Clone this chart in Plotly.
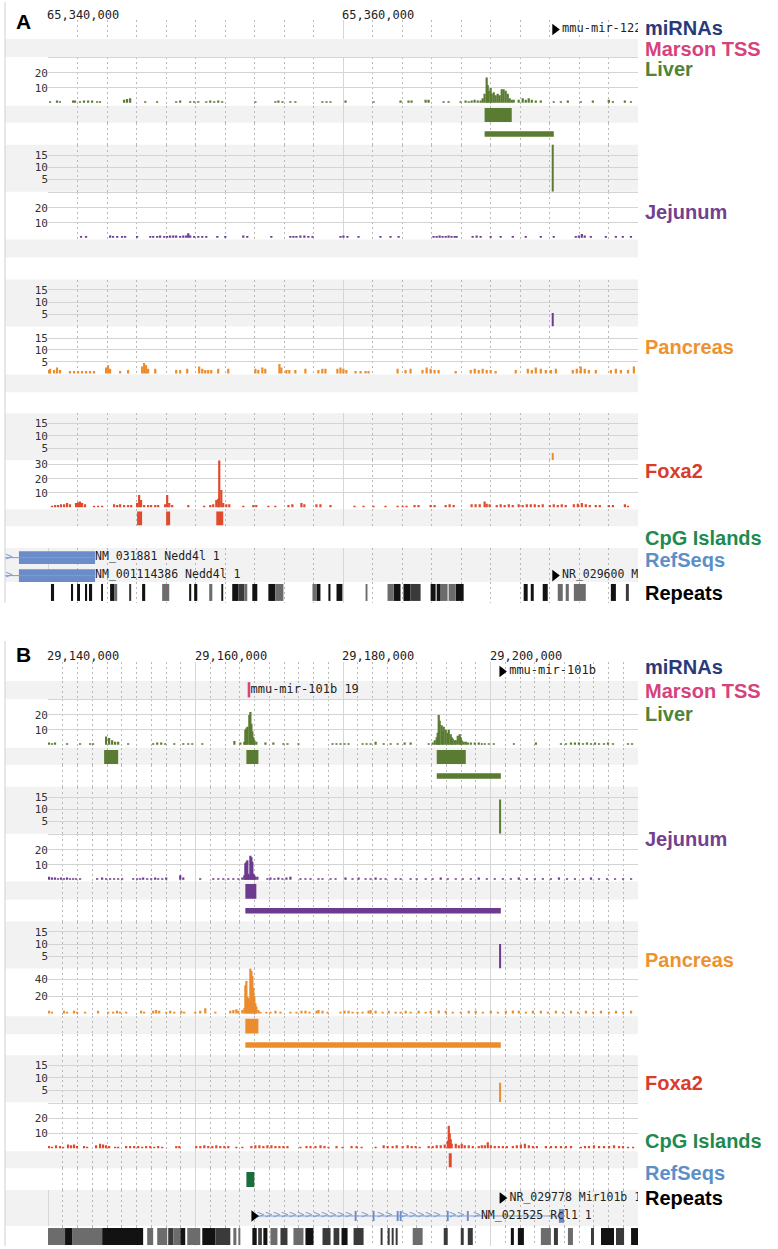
import plotly.graph_objects as go

# ------------------------------------------------------------------ data
A_START, A_END = 65_340_000, 65_380_000
B_START, B_END = 29_140_000, 29_220_000
A_TICKS = [65_340_000, 65_360_000]
A_TICK_TEXT = ["65,340,000", "65,360,000"]
B_TICKS = [29_140_000, 29_160_000, 29_180_000, 29_200_000]
B_TICK_TEXT = ["29,140,000", "29,160,000", "29,180,000", "29,200,000"]
MINOR_STEP = 2_000

TRACK_NAMES = ["miRNAs", "Marson TSS", "Liver", "Jejunum", "Pancreas",
               "Foxa2", "CpG Islands", "RefSeqs", "Repeats"]

# signal tracks: (kb from window start, signal value)
A_LIVER = [(0.14,1),(0.61,1.5),(0.81,1),(1.70,1.5),(1.83,1.5),(2.17,1),(2.44,1.5),(2.72,1.5),(2.99,1.5),(3.33,1),(3.53,1),
           (5.16,2),(5.36,2.5),(5.57,3),(6.59,1),(7.40,1),(8.69,1),(8.96,1.5),(9.64,1),(9.91,1),(10.19,1),(10.73,1),(11.00,1.5),
           (11.27,1),(11.54,1.5),(11.81,1),(14.06,1),(15.41,1),(15.62,1.5),(15.89,1),(16.43,1),(16.77,1),(18.60,1),(18.88,1),
           (19.15,1),(20.17,1.5),(22.07,1),(23.90,1.5),(24.44,1.5),(24.65,1.5),(25.60,2),(25.80,2),(26.82,1),(27.16,1),
           (27.97,1),(28.31,1.5),(28.52,1),(28.72,1.5),(28.92,2),(29.13,1.5),(29.33,1.5),(29.47,3),(29.60,6),(29.74,17),
           (29.81,12),(29.88,8),(30.01,10),(30.08,6),(30.22,7),(30.35,5),(30.49,6),(30.62,5),(30.76,9),(30.89,9),(31.03,8),
           (31.17,6),(31.30,3),(31.44,2),(31.57,2),(31.91,2),(32.18,3),(32.39,2),(32.59,3),(32.80,2),(33.07,1.5),(33.41,1.5),
           (34.29,1),(34.77,1),(35.24,1.5),(36.12,1),(36.94,1.5),(38.02,2),(38.30,1),(39.11,1.5),(39.52,1)]
A_JEJ = [(2.24,1.2),(2.58,1.2),(4.21,1.5),(4.41,1.2),(4.69,1.2),(5.02,1.2),(5.23,1.2),(6.04,1.2),(6.93,1.2),(7.13,1.2),
         (7.40,1.2),(7.60,1.5),(7.88,1.2),(8.08,1.2),(8.28,1.5),(8.49,1.5),(8.69,1.5),(8.96,1.2),(9.17,1.5),(9.37,1.5),
         (9.51,3),(9.64,1.5),(9.91,1.2),(10.19,1.2),(10.46,1.2),(10.73,1.2),(11.48,1.2),(12.02,1.2),(13.24,1.5),(13.51,1.2),
         (15.14,1.2),(16.43,1.2),(16.64,1.2),(16.84,1.2),(17.11,1.5),(17.38,1.5),(17.65,1.2),(17.93,1.2),(19.83,1.2),
         (20.03,1.5),(20.30,1.2),(21.05,1.2),(22.54,1.2),(23.22,1.2),(23.77,1.2),(26.14,1.2),(26.35,1.2),(26.55,1.5),
         (26.75,1.2),(26.96,1.2),(27.16,1.5),(27.36,1.2),(27.57,1.2),(27.70,1.2),(28.79,1.2),(29.06,1.5),(29.33,1.2),
         (30.01,1.2),(30.69,1.2),(31.51,1.2),(32.39,1.2),(33.41,1.2),(34.29,1.2),(35.78,1.2),(35.99,1.5),(36.19,2.5),
         (36.39,1.5),(36.80,1.2),(37.82,1.2),(38.50,1.2),(38.97,1.2),(39.52,1.2)]
A_PAN = [(0.07,1.5),(0.14,2),(0.41,1.5),(0.61,2.5),(0.81,1.5),(1.49,1),(1.77,1),(2.04,1),(2.31,1),(2.58,1),(2.85,1),
         (3.12,1),(3.94,2.5),(4.07,3.5),(4.21,2),(4.89,1),(5.43,1.5),(6.38,3),(6.52,4.5),(6.65,3.5),(6.79,2),(7.27,2),
         (8.69,1.5),(8.96,1.5),(9.44,2),(10.25,3),(10.46,2),(10.66,1.5),(10.86,1.5),(11.07,1.5),(11.54,2),(12.22,2),
         (14.06,2),(14.26,1.5),(14.53,2.5),(14.73,2),(15.69,4),(15.82,2.5),(16.16,1.5),(16.36,1.5),(16.77,1.5),(17.45,2),
         (18.33,1.5),(18.60,2),(18.81,2),(19.62,2),(19.83,2.5),(20.03,2),(20.23,1.5),(20.85,1),(21.19,1),(21.53,1),
         (21.73,1),(23.70,2),(24.24,1.5),(24.58,2),(25.39,1.5),(25.67,2.5),(25.94,2),(26.21,1.5),(26.48,1.5),(27.64,1),
         (28.66,1.5),(28.93,2),(29.20,1.5),(29.47,2),(29.74,1.5),(30.01,1.5),(30.35,1),(31.71,1.5),(32.53,2),(32.80,1.5),
         (33.07,2.5),(33.41,2),(33.75,1.5),(34.09,1.5),(34.43,2),(35.58,1.5),(35.85,2),(36.12,3),(36.39,2),(36.67,1.5),
         (37.14,1.5),(38.16,1.5),(38.50,2),(38.84,1.5),(39.32,1.5),(39.72,3)]
A_FOX = [(0.27,1),(0.48,1.5),(0.68,1.5),(0.88,2),(1.09,2),(1.29,3),(1.49,2),(1.90,3),(2.04,3.5),(2.17,4),(2.31,3),
         (2.51,2),(3.12,1),(3.40,1),(3.67,1),(4.48,2),(4.69,1.5),(4.89,2),(5.16,1.5),(5.43,1.5),(5.64,1.5),(6.04,3),
         (6.18,8.5),(6.31,5),(6.52,1.5),(6.79,1.5),(6.99,1.5),(7.27,1.5),(7.47,1.5),(7.94,2),(8.08,8.5),(8.22,3),(8.42,1.5),
         (9.51,1.5),(10.59,1),(11.00,1.5),(11.20,2),(11.41,5),(11.54,6),(11.61,33),(11.75,12),(11.88,3),(12.09,2),
         (12.29,2),(13.24,1),(13.92,1.5),(14.12,1.5),(14.94,1),(15.41,1),(16.30,1.5),(16.57,2),(17.18,3),(17.38,2),
         (18.20,2),(18.47,2),(19.15,1.5),(20.78,1),(21.39,1),(22.07,1),(22.88,1),(23.70,1),(24.04,1),(24.31,1),
         (24.85,1.5),(25.12,1.5),(25.94,1.5),(26.21,1.5),(26.96,1.5),(27.23,2),(27.50,1.5),(28.72,2),(28.99,2),(29.27,2),
         (29.60,4),(29.74,2.5),(29.94,2),(30.42,1.5),(30.69,2),(30.96,1.5),(31.24,2),(31.51,1.5),(31.91,2),(32.18,1.5),
         (32.46,2),(32.73,2),(33.00,2),(33.27,1.5),(33.54,2),(34.02,1.5),(34.29,2),(34.56,1.5),(34.83,2),(35.10,1.5),
         (35.65,2),(35.92,2.5),(36.19,3),(36.46,2),(36.73,1.5),(37.14,1.5),(37.41,1.5),(38.02,1.5),(38.30,1.5),
         (39.11,2),(39.32,1)]

B_LIVER = [(0.14,1.5),(0.54,1),(0.95,1.5),(2.58,1),(4.35,1),(5.71,1),(6.11,1),(7.88,5.5),(8.29,4.5),(8.70,3),(9.10,2),
           (9.51,2),(10.87,1),(14.26,1),(14.81,1.5),(15.35,1.5),(15.89,1),(17.12,1),(18.34,1),(19.02,1),(19.56,1),
           (20.92,1),(25.27,2.5),(26.08,1.5),(26.62,2),(26.76,10),(26.90,11),(27.03,12),(27.30,20),(27.44,22),(27.58,14),
           (27.71,9),(27.85,5),(27.98,3),(28.25,2),(29.48,1.5),(30.56,1.5),(31.92,1),(32.47,1),(33.96,1),(38.58,1),
           (39.12,1),(39.66,1),(40.21,1),(40.75,1),(42.65,1),(43.20,1),(43.74,1),(44.42,2),(45.51,1),(46.46,1),(47.41,1),
           (48.36,1.5),(49.17,1.5),(51.62,1),(52.16,1.5),(52.44,3),(52.71,5),(52.84,8),(52.98,20),(53.11,16),(53.38,13),
           (53.52,9),(53.66,12),(53.93,10),(54.20,8),(54.34,10),(54.61,7),(54.74,5),(54.88,4),(55.15,3),(55.29,3),
           (55.56,6),(55.83,7),(55.97,5),(56.10,3),(56.37,2),(56.65,2),(56.92,1.5),(57.33,1.5),(57.87,1.5),(58.41,1.5),
           (58.82,1),(59.23,1),(59.77,1),(60.45,1),(63.17,1),(66.15,1.5),(69.55,1),(70.23,1),(70.91,1.5),(71.45,1.5),
           (71.99,1.5),(72.54,1),(73.08,1.5),(73.63,1),(74.17,1.5),(74.71,1),(75.39,1),(75.93,1.5),(76.61,1),(78.65,1),
           (79.19,1)]
B_JEJ = [(0.14,2),(0.54,1.5),(0.95,1.5),(1.36,1),(1.77,1.5),(2.17,1),(2.58,1.5),(2.99,1),(3.40,1),(3.80,1),(4.35,1),
         (6.66,1),(7.34,1.5),(7.88,1),(8.42,1),(8.97,1),(9.51,1),(10.05,1),(11.55,1),(12.09,1),(12.50,1),(12.90,1.5),
         (13.45,1),(13.99,1),(14.53,1.5),(14.94,1),(15.49,1),(16.03,1.5),(17.93,3),(18.34,1.5),(20.64,1),(22.41,1),
         (23.09,1),(23.77,1),(24.45,1),(25.13,1),(25.81,1),(26.35,1.5),(26.62,3),(26.76,11),(26.90,12),(27.03,13),
         (27.17,4),(27.30,3),(27.44,16),(27.58,15),(27.71,12),(27.85,4),(27.98,3),(28.12,2),(28.39,2),(29.75,1),
         (30.16,1.5),(30.70,1),(31.24,1.5),(31.79,1),(32.33,1.5),(32.87,2),(34.23,1),(34.91,1),(35.59,1),(36.68,1),
         (37.22,1),(38.31,1),(38.99,1),(40.34,1.5),(41.29,1),(42.11,1.5),(43.06,1),(43.74,1),(44.42,1.5),(45.10,1),
         (45.78,1),(47.14,1),(47.82,1),(49.17,1),(49.99,1),(51.21,1),(52.16,1),(53.25,1.5),(54.20,1),(55.29,1),
         (56.24,1),(57.33,1),(58.41,1.5),(59.50,1),(60.58,1),(61.67,1),(62.76,1),(63.84,1.5),(64.93,1),(66.02,1),
         (67.10,1),(68.19,1),(69.28,1.5),(70.37,1),(71.45,1),(72.54,1),(73.63,1.5),(74.71,1),(75.80,1),(76.89,1),
         (77.97,1),(79.06,1)]
B_PAN = [(0.14,3),(0.54,2),(2.17,3),(2.58,2),(3.53,3),(3.94,2),(5.03,2),(6.79,3),(8.15,2),(8.83,2),(9.37,3),(9.78,2),
         (10.60,2),(12.63,3),(13.04,2),(14.26,3),(14.67,4),(15.08,3),(16.03,2),(16.57,3),(17.12,2),(18.07,3),(18.47,2),
         (19.97,2),(20.64,3),(21.33,6),(22.69,2),(24.72,3),(25.13,4),(25.54,5),(25.81,3),(26.35,4),(26.62,6),(26.76,33),
         (26.90,38),(27.03,20),(27.17,18),(27.30,16),(27.44,53),(27.58,50),(27.71,44),(27.85,30),(27.98,20),(28.12,12),
         (28.25,8),(28.53,4),(28.80,2),(29.61,2),(30.16,2),(30.84,3),(31.52,2),(32.87,2),(33.69,2),(34.37,3),(34.91,3),
         (35.45,2),(36.41,3),(36.68,4),(37.22,3),(37.90,2),(39.66,2),(40.21,3),(40.75,3),(41.30,2),(41.97,2),(42.65,2),
         (43.47,3),(43.74,4),(44.42,3),(45.37,2),(46.19,3),(47.14,2),(47.82,2),(48.50,3),(49.17,2),(50.26,3),(51.21,2),
         (51.89,3),(52.98,3.5),(53.93,3),(54.88,2),(55.97,2),(57.05,3),(58.00,3),(58.96,2),(60.04,3),(61.00,2),(62.08,3),
         (63.03,3.5),(63.84,3),(64.80,2),(65.75,3),(66.83,3),(67.78,2),(68.87,3),(69.82,2),(70.91,3),(71.86,2),(72.94,3),
         (73.90,2),(74.98,3),(76.07,2),(77.02,3),(77.97,2),(79.06,3)]
B_FOX = [(0.14,1.5),(0.54,1),(1.09,2),(1.63,1.5),(2.04,1),(2.72,2.5),(3.12,2),(3.53,2.5),(3.94,1.5),(4.89,1.5),(5.30,1),
         (6.52,2),(7.06,3),(7.47,2.5),(7.88,2),(8.29,1.5),(9.10,1),(9.51,1),(10.60,1.5),(11.14,1.5),(11.68,1.5),(12.23,1.5),
         (12.77,1),(13.31,1.5),(13.86,1.5),(14.40,1),(14.94,1.5),(15.49,1),(17.39,1.5),(17.80,1.5),(20.10,1.5),(20.65,1.5),
         (21.19,2),(21.73,1.5),(22.28,1.5),(22.82,2),(23.36,1.5),(23.91,1.5),(24.45,1.5),(25.54,1),(26.35,1),(27.58,1.5),
         (28.12,2),(28.66,2),(29.21,1.5),(29.75,2),(30.29,2),(30.84,1.5),(31.38,1.5),(31.92,1.5),(32.47,1.5),(34.23,1),
         (35.05,1.5),(35.59,1.5),(36.27,1.5),(36.95,2),(37.49,1.5),(38.04,1),(39.12,1.5),(39.94,1),(41.16,1.5),(41.84,1.5),
         (42.52,1),(44.42,1),(45.51,2),(46.05,1.5),(46.73,1.5),(47.28,2),(48.09,1.5),(48.77,2),(49.31,1.5),(49.85,1.5),
         (50.39,1),(51.62,1.5),(52.16,1.5),(52.71,2),(53.25,2),(53.79,2.5),(54.20,5),(54.34,15),(54.47,10),(54.61,6),
         (54.74,3),(55.29,3),(55.70,2),(56.10,3),(56.51,2),(57.05,2),(57.60,1.5),(58.41,1.5),(58.82,2),(59.23,2),(59.63,4),
         (60.04,2),(60.58,1.5),(61.13,1.5),(61.67,1.5),(62.21,1.5),(63.03,1.5),(63.57,2),(64.12,2.5),(64.66,3),(65.20,2),
         (65.75,1.5),(66.29,1.5),(67.51,1.5),(68.19,1.5),(68.87,1.5),(69.55,1.5),(70.23,1.5),(70.91,1.5),(72.26,1),
         (72.81,1.5),(73.35,1.5),(74.03,2),(74.71,1.5),(75.39,1.5),(76.07,1.5),(76.75,2),(77.43,1.5),(77.97,1.5),
         (78.65,1),(79.33,1)]

# peaks / domains / CpG islands: (start kb, end kb)
A_LIVER_PEAKS = [(29.60, 31.44)]
A_LIVER_DOMAINS = [(29.60, 34.29)]
A_JEJ_PEAKS, A_JEJ_DOMAINS = [], []
A_PAN_PEAKS, A_PAN_DOMAINS = [], []
A_FOX_PEAKS = [(6.04, 6.38), (8.01, 8.28), (11.41, 11.88)]
A_CPG = []
B_LIVER_PEAKS = [(7.61, 9.51), (26.90, 28.53), (52.71, 56.65)]
B_LIVER_DOMAINS = [(52.71, 61.40)]
B_JEJ_PEAKS = [(26.76, 28.25)]
B_JEJ_DOMAINS = [(26.76, 61.40)]
B_PAN_PEAKS = [(26.76, 28.53)]
B_PAN_DOMAINS = [(26.76, 61.40)]
B_FOX_PEAKS = [(54.34, 54.74)]
B_CPG = [(26.90, 27.98)]

# miRNA-associated scores (kb, value) for Liver, Jejunum, Pancreas
A_SCORES = [(34.22, 25), (34.22, 5.5), (34.22, 3)]
B_SCORES = [(61.30, 14), (61.30, 10), (61.30, 8)]

# miRNAs and Marson TSS (kb, name)
A_MIRNA = [(34.36, "mmu-mir-122")]
B_MIRNA = [(61.55, "mmu-mir-101b")]
A_TSS = []
B_TSS = [(27.25, "mmu-mir-101b 19")]

# RefSeq transcripts: (label, row, tx start kb, tx end kb, label kb)
A_GENES = [("NM_031881 Nedd4l 1", 0, -2.92, 3.19, 3.19),
           ("NM_001114386 Nedd4l 1", 1, -2.92, 3.19, 3.19)]
A_EXONS = [(0, -1.97, 3.19), (1, -1.97, 3.19)]          # (row, start, end)
A_RNA_MARKS = [(1, 34.36, "NR_029600 Mir122a 1")]       # (row, kb, label)
B_GENES = [("NM_021525 Rcl1 1", 1, 28.30, 69.97, 58.70)]
B_EXONS = [(1, 41.58, 41.84), (1, 44.02, 44.28), (1, 47.28, 47.54), (1, 47.69, 47.95),
           (1, 54.07, 54.33), (1, 56.79, 57.05), (1, 69.28, 69.97), (0, 61.20, 61.40)]
B_RNA_MARKS = [(0, 61.60, "NR_029778 Mir101b 1"), (1, 27.92, "")]

# repeats: (start kb, end kb, shade 0=black 1=dark 2=grey)
A_REPEATS = [(0.20,0.41,0),(1.56,1.70,0),(1.97,2.17,0),(2.51,2.65,0),(2.78,2.99,0),(3.60,3.73,0),(4.21,4.48,0),
             (4.48,4.69,2),(5.50,5.64,1),(6.38,6.59,0),(7.74,8.22,2),(9.57,9.71,0),(9.91,10.12,0),(10.93,11.14,2),
             (11.75,11.88,0),(12.49,12.90,0),(12.90,13.31,1),(13.31,13.51,2),(13.85,14.19,0),(14.94,15.41,0),
             (15.41,15.96,2),(17.93,18.20,2),(18.20,18.47,0),(19.01,19.15,0),(19.56,19.96,0),(21.53,21.66,2),
             (23.02,23.43,2),(23.43,23.90,0),(24.10,24.58,0),(24.58,25.26,1),(25.94,26.28,0),(26.35,26.62,0),
             (26.62,27.09,2),(27.16,27.64,2),(27.64,28.18,0),(32.25,32.52,0),(32.73,32.93,0),(33.54,33.88,0),
             (34.56,34.90,2),(35.10,35.31,2),(35.65,36.46,2),(38.16,38.50,0),(39.18,39.38,1)]
B_REPEATS = [(0.0,2.31,2),(2.31,3.26,0),(3.26,7.34,2),(7.34,12.90,0),(13.45,14.26,2),(14.81,16.17,2),(16.30,16.98,1),
             (16.98,17.93,2),(17.93,18.61,0),(18.88,20.65,2),(20.92,22.69,0),(22.69,24.72,1),(25.13,25.54,2),
             (25.81,26.08,2),(27.71,28.30,0),(28.50,29.00,1),(29.20,29.75,0),(30.16,31.11,2),(31.52,32.47,1),
             (33.28,34.64,2),(34.91,36.00,0),(37.22,38.31,1),(38.72,39.50,1),(39.80,40.62,0),(41.43,42.79,1),
             (45.10,45.37,1),(46.05,46.33,1),(46.60,46.87,1),(47.14,47.41,1),(49.45,50.80,2),(53.66,54.20,1),
             (55.97,56.37,1),(56.92,57.60,1),(62.76,63.17,0),(63.71,64.53,0),(66.83,68.19,2),(68.60,69.14,1),
             (70.50,71.18,2),(73.63,74.03,1),(74.98,76.75,0),(77.02,78.11,1),(79.06,80.00,0)]

# ------------------------------------------------------------------ style
W, H = 778, 1249
XB, XL, XR = 5, 48, 638
GRID_MAJOR = "#d6d6d6"
GRID_MINOR = "#b8b8b8"
GRID_H = "#d4d4d4"
BAND = "#f3f2f3"
MONO = "DejaVu Sans Mono"
SANS = "Liberation Sans, Arial, Helvetica, sans-serif"
LIVER_C, JEJ_C, PAN_C, FOX_C = "#5a7b32", "#6c3a8e", "#eb8c2d", "#e1492c"
CPG_C, TSS_C, REF_C, REF_LINE = "#1b6d3c", "#d8437e", "#6a8dca", "#7d9cd2"
REP_C = ["#121212", "#3a3a3a", "#6c6c6c"]
LABEL_C = ["#283a78", "#d6427c", "#4e8437", "#733f90", "#ee9231", "#d93c2c",
           "#1f8a50", "#5c8fc8", "#000000"]

fig = go.Figure()
layout = dict(width=W, height=H, margin=dict(l=0, r=0, t=0, b=0),
              paper_bgcolor="white", plot_bgcolor="rgba(0,0,0,0)",
              barmode="overlay", showlegend=False, hovermode=False)
shapes, annotations = [], []
counter = [0]


def px_y(p):
    return 1 - p / H


def add_axes(top, bot, xr, majors, minors, yr, yticks=None, ytext=None,
             grey=False, left=XL):
    counter[0] += 1
    k = counter[0]
    s = "" if k == 1 else str(k)
    layout["xaxis" + s] = dict(
        domain=[left / W, XR / W], range=xr, anchor="y" + s,
        showticklabels=False, ticks="", showline=False, zeroline=False,
        tickmode="array", tickvals=majors, showgrid=True,
        gridcolor=GRID_MAJOR, gridwidth=1, fixedrange=True,
        minor=dict(tickmode="array", tickvals=minors, showgrid=True,
                   gridcolor=GRID_MINOR, gridwidth=1, griddash="2px,3px", ticks=""))
    y = dict(domain=[px_y(bot), px_y(top)], range=yr, anchor="free",
             position=XL / W, showline=False, zeroline=False, ticks="",
             fixedrange=True)
    if yticks:
        y.update(tickmode="array", tickvals=yticks, ticktext=ytext,
                 showgrid=True, gridcolor=GRID_H, gridwidth=1,
                 showticklabels=True,
                 tickfont=dict(family=MONO, size=11, color="#333333"))
    else:
        y.update(showgrid=False, showticklabels=False)
    layout["yaxis" + s] = y
    if grey:
        shapes.append(dict(type="rect", xref="paper", yref="paper",
                           x0=XB / W, x1=XR / W, y0=px_y(bot), y1=px_y(top),
                           fillcolor=BAND, line=dict(width=0), layer="below"))
    return "x" + s, "y" + s


def add_bars(ax, x, y, w, color, base=None):
    fig.add_trace(go.Bar(x=x, y=y, width=w, base=base,
                         marker=dict(color=color, line=dict(width=0)),
                         xaxis=ax[0], yaxis=ax[1], hoverinfo="skip"))


def add_intervals(ax, start, spans, color, base, height):
    if not spans:
        return
    add_bars(ax, [start + (a + b) / 2 * 1000 for a, b in spans],
             [height] * len(spans), [(b - a) * 1000 for a, b in spans],
             color, base=[base] * len(spans))


def build_panel(P):
    start, end = P["start"], P["end"]
    bppx = (end - start) / (XR - XL)
    majors = [t for t in P["ticks"] if start <= t < end]
    minors = [v for v in range(start + MINOR_STEP, end, MINOR_STEP) if v not in majors]
    xr = [start, end]
    T = P["tracks"]
    sig_w = 2.2 * bppx
    kb = lambda v: start + v * 1000

    # miRNAs
    ax = add_axes(*T["mirna"], xr, majors, minors, [0, 1])
    mir_ax = ax
    for pos, name in P["mirna"]:
        fig.add_trace(go.Scatter(
            x=[kb(pos)], y=[0.5], mode="markers+text",
            marker=dict(symbol="triangle-right", size=10, color="black"),
            text=[name], textposition="middle right",
            textfont=dict(family=MONO, size=12, color="#222222"),
            xaxis=ax[0], yaxis=ax[1], hoverinfo="skip"))
    # Marson TSS
    ax = add_axes(*T["tss"], xr, majors, minors, [0, 1], grey=True)
    for pos, name in P["tss"]:
        add_bars(ax, [kb(pos)], [0.85], [2.6 * bppx], TSS_C, base=[0.08])
        fig.add_trace(go.Scatter(
            x=[kb(pos) + 1.5 * bppx], y=[0.5], mode="text", text=[name],
            textposition="middle right",
            textfont=dict(family=MONO, size=12, color="#222222"),
            xaxis=ax[0], yaxis=ax[1], hoverinfo="skip"))

    tissues = [("liver", LIVER_C), ("jej", JEJ_C), ("pan", PAN_C), ("fox", FOX_C)]
    for ti, (name, color) in enumerate(tissues):
        yr, yt, ytt = P["sig_scale"][name]
        ax = add_axes(*T[name + "_sig"], xr, majors, minors, yr, yt, ytt)
        pairs = P["signal"][name]
        add_bars(ax, [kb(p) for p, _ in pairs], [v for _, v in pairs],
                 sig_w, color)
        ax = add_axes(*T[name + "_pk"], xr, majors, minors, [0, 1], grey=True)
        add_intervals(ax, start, P["peaks"][name], color, 0.05, 0.82)
        if name == "fox":
            continue
        ax = add_axes(*T[name + "_dom"], xr, majors, minors, [0, 1])
        add_intervals(ax, start, P["domains"][name], color, 0.36, 0.26)
        ax = add_axes(*T[name + "_sc"], xr, majors, minors, [0, 19.2],
                      [5, 10, 15], ["5", "10", "15"], grey=True)
        pos, val = P["scores"][ti]
        add_bars(ax, [kb(pos)], [val], [2.0 * bppx], color)

    # CpG islands
    ax = add_axes(*T["cpg"], xr, majors, minors, [0, 1])
    add_intervals(ax, start, P["cpg"], CPG_C, 0.14, 0.68)

    # RefSeqs
    xr_ref = [start - (XL - XB) * bppx, end]
    ax = add_axes(*T["refseq"], xr_ref, majors, minors, [0, 1], grey=True, left=XB)
    rows = P["rows"]
    for label, row, s0, s1, lab in P["genes"]:
        yv = rows[row]
        fig.add_trace(go.Scatter(x=[kb(s0), kb(s1)], y=[yv, yv], mode="lines",
                                 line=dict(color=REF_LINE, width=1),
                                 xaxis=ax[0], yaxis=ax[1], hoverinfo="skip"))
        exons = [(a, b) for r, a, b in P["exons"] if r == row]
        chev, c = [], kb(s0) + 4 * bppx
        stop = min(kb(s1), kb(lab))
        while c < stop - 3 * bppx:
            if not any(kb(a) - 3 * bppx <= c <= kb(b) + 3 * bppx for a, b in exons):
                chev.append(c)
            c += 8 * bppx
        if chev:
            fig.add_trace(go.Scatter(x=chev, y=[yv] * len(chev), mode="text",
                                     text=[">"] * len(chev),
                                     textfont=dict(family="DejaVu Sans", size=10, color=REF_LINE),
                                     xaxis=ax[0], yaxis=ax[1], hoverinfo="skip"))
        fig.add_trace(go.Scatter(x=[kb(lab)], y=[yv], mode="text", text=[label],
                                 textposition="middle right",
                                 textfont=dict(family=MONO, size=11.5, color="#222222"),
                                 xaxis=ax[0], yaxis=ax[1], hoverinfo="skip"))
    for r in set(r for r, _, _ in P["exons"]):
        ex = [(a, b) for rr, a, b in P["exons"] if rr == r]
        hs = [0.38 if (b - a) * 1000 > 4 * bppx else 0.28 for a, b in ex]
        add_bars(ax, [kb((a + b) / 2) for a, b in ex], hs,
                 [(b - a) * 1000 for a, b in ex], REF_C,
                 base=[rows[r] - h / 2 for h in hs])
    for row, pos, label in P["marks"]:
        fig.add_trace(go.Scatter(
            x=[kb(pos)], y=[rows[row]], mode="markers+text",
            marker=dict(symbol="triangle-right", size=10, color="black"),
            text=[label], textposition="middle right",
            textfont=dict(family=MONO, size=11.5, color="#222222"),
            xaxis=ax[0], yaxis=ax[1], hoverinfo="skip"))

    # Repeats
    ax = add_axes(*T["rep"], xr, majors, minors, [0, 1])
    for shade in range(3):
        sp = [(a, b) for a, b, s in P["repeats"] if s == shade]
        add_intervals(ax, start, sp, REP_C[shade], P["rep_base"], P["rep_h"])

    # tick labels
    for t, txt in zip(P["ticks"], P["tick_text"]):
        annotations.append(dict(x=t, y=px_y(P["tick_y"]), xref=mir_ax[0], yref="paper",
                                text=txt, showarrow=False, xanchor="left", yanchor="middle",
                                xshift=-3, font=dict(family=MONO, size=12, color="#222222")))
    # right-hand track labels
    for name, yy, col in zip(TRACK_NAMES, P["label_y"], LABEL_C):
        annotations.append(dict(x=643 / W, y=px_y(yy), xref="paper", yref="paper",
                                text="<b>" + name + "</b>", showarrow=False,
                                xanchor="left", yanchor="middle",
                                font=dict(family=SANS, size=20, color=col)))
    annotations.append(dict(x=23 / W, y=px_y(P["letter_y"]), xref="paper", yref="paper",
                            text="<b>" + P["letter"] + "</b>", showarrow=False,
                            xanchor="center", yanchor="middle",
                            font=dict(family=SANS, size=21, color="black")))
    b0, b1 = P["border"]
    shapes.append(dict(type="line", xref="paper", yref="paper", x0=XB / W, x1=XB / W,
                       y0=px_y(b1), y1=px_y(b0), line=dict(color="#cfcfcf", width=1)))


def tracks_at(o, ref=(547, 581), rep=(581, 602)):
    base = dict(mirna=(18, 37), tss=(37, 55),
                liver_sig=(55, 104), liver_pk=(104, 121), liver_dom=(121, 143), liver_sc=(143, 190),
                jej_sig=(190, 238), jej_pk=(238, 256), jej_dom=(256, 278), jej_sc=(278, 325),
                pan_sig=(325, 373), pan_pk=(373, 391), pan_dom=(391, 412), pan_sc=(412, 459),
                fox_sig=(459, 508), fox_pk=(508, 525), cpg=(525, 547), refseq=ref, rep=rep)
    return {k: (a + o, b + o) if k not in ("refseq", "rep") else (a, b)
            for k, (a, b) in base.items()}


SIG30 = ([-2, 30.7], [10, 20, 30], ["10", "20", ""])
PANEL_A = dict(
    start=A_START, end=A_END, ticks=A_TICKS, tick_text=A_TICK_TEXT, tick_y=13,
    tracks=tracks_at(0, ref=(547, 581), rep=(581, 602)),
    sig_scale=dict(liver=SIG30, jej=([-1.3, 30.7], [10, 20, 30], ["10", "20", ""]),
                   pan=([-0.4, 20], [5, 10, 15, 20], ["5", "10", "15", ""]),
                   fox=([-1.4, 32.9], [10, 20, 30], ["10", "20", "30"])),
    signal=dict(liver=A_LIVER, jej=A_JEJ, pan=A_PAN, fox=A_FOX),
    peaks=dict(liver=A_LIVER_PEAKS, jej=A_JEJ_PEAKS, pan=A_PAN_PEAKS, fox=A_FOX_PEAKS),
    domains=dict(liver=A_LIVER_DOMAINS, jej=A_JEJ_DOMAINS, pan=A_PAN_DOMAINS),
    scores=A_SCORES, cpg=A_CPG, mirna=A_MIRNA, tss=A_TSS,
    rows=[0.72, 0.19], genes=A_GENES, exons=A_EXONS, marks=A_RNA_MARKS,
    repeats=A_REPEATS, rep_base=0.1, rep_h=0.81,
    label_y=[26.5, 47.5, 67.5, 210, 346, 470, 537, 559, 592],
    letter="A", letter_y=19.5, border=(0, 602))
PANEL_B = dict(
    start=B_START, end=B_END, ticks=B_TICKS, tick_text=B_TICK_TEXT, tick_y=655,
    tracks=tracks_at(643, ref=(1190, 1226), rep=(1226, 1246)),
    sig_scale=dict(liver=SIG30, jej=([-1.3, 30.7], [10, 20, 30], ["10", "20", ""]),
                   pan=([-3.5, 52.9], [20, 40], ["20", "40"]),
                   fox=SIG30),
    signal=dict(liver=B_LIVER, jej=B_JEJ, pan=B_PAN, fox=B_FOX),
    peaks=dict(liver=B_LIVER_PEAKS, jej=B_JEJ_PEAKS, pan=B_PAN_PEAKS, fox=B_FOX_PEAKS),
    domains=dict(liver=B_LIVER_DOMAINS, jej=B_JEJ_DOMAINS, pan=B_PAN_DOMAINS),
    scores=B_SCORES, cpg=B_CPG, mirna=B_MIRNA, tss=B_TSS,
    rows=[0.78, 0.28], genes=B_GENES, exons=B_EXONS, marks=B_RNA_MARKS,
    repeats=B_REPEATS, rep_base=0.05, rep_h=0.85,
    label_y=[666, 690, 713, 838, 960, 1083, 1141, 1173, 1198],
    letter="B", letter_y=654, border=(640, 1246))

build_panel(PANEL_A)
build_panel(PANEL_B)

layout["shapes"] = shapes
layout["annotations"] = annotations
fig.update_layout(layout)
fig.write_html("out.html", config={"displayModeBar": False, "staticPlot": True},
               post_script="document.body.style.margin='0';document.body.style.overflow='hidden';")
